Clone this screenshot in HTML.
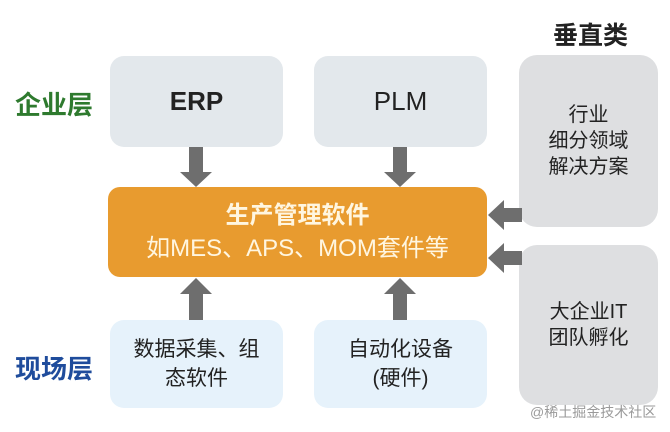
<!DOCTYPE html>
<html><head><meta charset="utf-8"><style>
body{margin:0;width:670px;height:432px;background:#fff;position:relative;overflow:hidden;font-family:"Liberation Sans","Noto Sans CJK SC",sans-serif}
.b{position:absolute;border-radius:14px;display:flex;align-items:center;justify-content:center;text-align:center;color:#222}
.t{position:absolute;font-weight:bold}
</style></head><body>
<div class="t" style="left:553px;top:16px;font-size:25px;color:#222">垂直类</div>
<div class="t" style="left:15px;top:85px;font-size:26px;color:#2e7a2e">企业层</div>
<div class="t" style="left:15px;top:349px;font-size:26px;color:#1f4c9c">现场层</div>

<div class="b" style="left:110px;top:56px;width:173px;height:91px;background:#e3e8ec;font-size:26px;font-weight:bold">ERP</div>
<div class="b" style="left:314px;top:56px;width:173px;height:91px;background:#e3e8ec;font-size:26px">PLM</div>
<div class="b" style="left:108px;top:187px;width:379px;height:90px;background:#e89b2f;color:#fff6e0;font-size:24px;line-height:33px;border-radius:12px"><div><b>生产管理软件</b><br>如MES、APS、MOM套件等</div></div>
<div class="b" style="left:110px;top:320px;width:173px;height:88px;background:#e6f2fb;font-size:21px;line-height:29px">数据采集、组<br>态软件</div>
<div class="b" style="left:314px;top:320px;width:173px;height:88px;background:#e6f2fb;font-size:21px;line-height:29px">自动化设备<br>(硬件)</div>
<div class="b" style="left:519px;top:55px;width:139px;height:172px;background:#dedfe1;font-size:20px;line-height:26px;border-radius:18px">行业<br>细分领域<br>解决方案</div>
<div class="b" style="left:519px;top:245px;width:139px;height:160px;background:#dedfe1;font-size:20px;line-height:26px;border-radius:18px">大企业IT<br>团队孵化</div>

<svg width="670" height="432" style="position:absolute;left:0;top:0">
<g fill="#6e6e6e">
<polygon points="189,147 203,147 203,172 212,172 196,187 180,172 189,172"/>
<polygon points="393,147 407,147 407,172 416,172 400,187 384,172 393,172"/>
<polygon points="189,320 203,320 203,294 212,294 196,278 180,294 189,294"/>
<polygon points="393,320 407,320 407,294 416,294 400,278 384,294 393,294"/>
<polygon points="522,208 522,222 504,222 504,230 488,215 504,200 504,208"/>
<polygon points="522,251 522,265 504,265 504,273 488,258 504,243 504,251"/>
</g>
<text x="530" y="417" font-size="14" fill="#9a9a9a" font-family="Liberation Sans, Noto Sans CJK SC, sans-serif">@稀土掘金技术社区</text>
</svg>
</body></html>
